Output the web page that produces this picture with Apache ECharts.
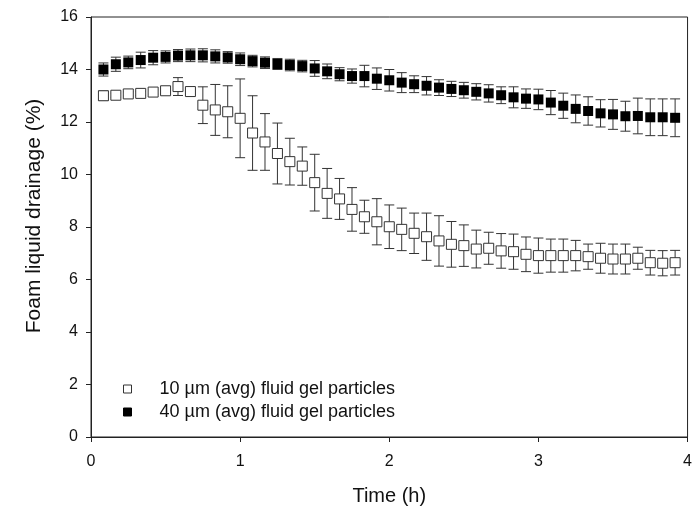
<!DOCTYPE html>
<html>
<head>
<meta charset="utf-8">
<script src="https://cdn.jsdelivr.net/npm/echarts@6/dist/echarts.min.js"></script>
<style>html,body{margin:0;padding:0;background:#fff}#c{width:695px;height:512px}</style>
</head>
<body>
<div id="c"></div>
<script>
const timeH = [];
for (let k = 1; k <= 47; k++) timeH.push(k / 12);

const seriesNames = ['10 µm (avg) fluid gel particles', '40 µm (avg) fluid gel particles'];

const small = [13.0,13.02,13.07,13.09,13.14,13.19,13.35,13.16,12.64,12.46,12.39,12.14,11.58,11.24,10.8,10.49,10.32,9.69,9.28,9.07,8.67,8.39,8.2,8.01,7.91,7.76,7.63,7.47,7.34,7.29,7.16,7.19,7.09,7.06,6.96,6.91,6.91,6.91,6.91,6.87,6.81,6.78,6.78,6.81,6.64,6.62,6.64];
const smallErr = [0.18,0.08,0.08,0.08,0.08,0.1,0.34,0.08,0.7,0.97,0.99,1.5,1.42,1.08,1.16,0.89,0.73,1.08,0.95,0.78,0.83,0.63,0.88,0.83,0.81,0.77,0.9,0.96,0.87,0.79,0.72,0.61,0.66,0.67,0.66,0.67,0.63,0.63,0.58,0.48,0.57,0.57,0.57,0.42,0.47,0.48,0.47];

const large = [14.0,14.2,14.27,14.36,14.45,14.48,14.53,14.54,14.54,14.5,14.46,14.39,14.32,14.26,14.21,14.17,14.13,14.04,13.93,13.82,13.75,13.75,13.65,13.59,13.5,13.44,13.38,13.31,13.26,13.21,13.15,13.09,13.02,12.94,12.89,12.86,12.74,12.62,12.5,12.42,12.33,12.29,12.22,12.23,12.18,12.18,12.16];
const largeErr = [0.25,0.27,0.24,0.3,0.27,0.23,0.23,0.24,0.25,0.25,0.22,0.24,0.22,0.22,0.21,0.22,0.22,0.3,0.28,0.25,0.27,0.41,0.41,0.41,0.38,0.32,0.35,0.3,0.29,0.3,0.31,0.33,0.32,0.4,0.37,0.39,0.46,0.48,0.53,0.54,0.52,0.57,0.57,0.68,0.7,0.7,0.72];

const yTicks = [0,2,4,6,8,10,12,14,16];
const xTicks = [0,1,2,3,4];

function errData(vals, errs) {
  return timeH.map((t, i) => [t, vals[i] - errs[i], vals[i] + errs[i]]);
}
function errRender(params, api) {
  const x = api.value(0);
  const lo = api.coord([x, api.value(1)]);
  const hi = api.coord([x, api.value(2)]);
  const cap = 5;
  const st = { stroke: '#333', lineWidth: 1 };
  return {
    type: 'group',
    children: [
      { type: 'line', shape: { x1: lo[0], y1: lo[1], x2: hi[0], y2: hi[1] }, style: st },
      { type: 'line', shape: { x1: lo[0] - cap, y1: lo[1], x2: lo[0] + cap, y2: lo[1] }, style: st },
      { type: 'line', shape: { x1: hi[0] - cap, y1: hi[1], x2: hi[0] + cap, y2: hi[1] }, style: st }
    ]
  };
}

const chart = echarts.init(document.getElementById('c'), null, { renderer: 'canvas' });
const font = 'Liberation Sans, Arial, sans-serif';
chart.setOption({
  animation: false,
  backgroundColor: '#fff',
  textStyle: { fontFamily: font },
  grid: { left: 91, right: 4, top: 17, bottom: 75, show: true, borderColor: '#222', borderWidth: 1 },
  legend: {
    orient: 'vertical',
    left: 123, top: 380, padding: 0,
    itemWidth: 8, itemHeight: 8, itemGap: 5,
    textStyle: { fontFamily: font, fontSize: 18, color: '#111', padding: [0, 0, 0, 23] },
    data: [
      { name: seriesNames[0], icon: 'rect', itemStyle: { color: '#fff', borderColor: '#333', borderWidth: 1 } },
      { name: seriesNames[1], icon: 'rect', itemStyle: { color: '#000', borderColor: '#000', borderWidth: 1 } }
    ]
  },
  xAxis: {
    type: 'value', min: 0, max: 4, interval: 1,
    name: 'Time (h)', nameLocation: 'middle', nameGap: 49,
    nameTextStyle: { fontFamily: font, fontSize: 20, color: '#111' },
    axisLine: { show: true, lineStyle: { color: '#222' } },
    axisTick: { show: true, inside: false, length: 5, lineStyle: { color: '#222' } },
    axisLabel: { fontFamily: font, fontSize: 16, color: '#111', margin: 17, formatter: v => xTicks.includes(v) ? String(v) : '' },
    splitLine: { show: false }
  },
  yAxis: {
    type: 'value', min: 0, max: 16, interval: 2,
    name: 'Foam liquid drainage (%)', nameLocation: 'middle', nameGap: 46,
    nameTextStyle: { fontFamily: font, fontSize: 21, color: '#111', padding: [0, 0, 0, 22] },
    axisLine: { show: true, lineStyle: { color: '#222' } },
    axisTick: { show: true, inside: false, length: 5, lineStyle: { color: '#222' } },
    axisLabel: { fontFamily: font, fontSize: 16, color: '#111', margin: 13, formatter: v => yTicks.includes(v) ? String(v) : '' },
    splitLine: { show: false }
  },
  series: [
    { type: 'custom', name: 'err40', renderItem: errRender, data: errData(large, largeErr), z: 1, silent: true },
    { type: 'custom', name: 'err10', renderItem: errRender, data: errData(small, smallErr), z: 1, silent: true },
    {
      type: 'scatter', name: seriesNames[0], symbol: 'rect', symbolSize: 10, z: 3,
      itemStyle: { color: '#fff', borderColor: '#333', borderWidth: 1, opacity: 1 },
      data: timeH.map((t, i) => [t, small[i]])
    },
    {
      type: 'scatter', name: seriesNames[1], symbol: 'rect', symbolSize: 10, z: 3,
      itemStyle: { color: '#000', opacity: 1 },
      data: timeH.map((t, i) => [t, large[i]])
    }
  ]
});
</script>
</body>
</html>
